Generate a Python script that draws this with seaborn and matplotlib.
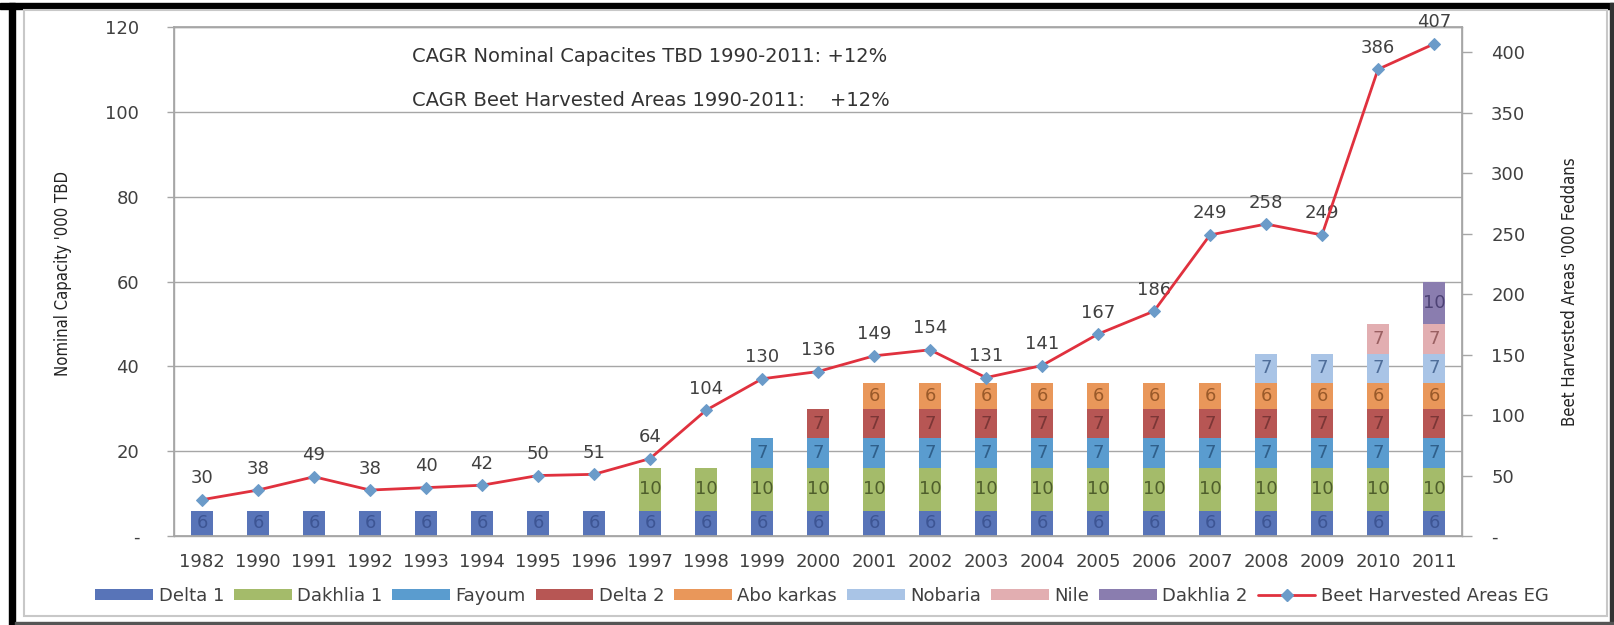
import numpy as np
import matplotlib
matplotlib.use("Agg")
import matplotlib.pyplot as plt
from matplotlib.lines import Line2D
from matplotlib.patches import Patch, Rectangle
import seaborn as sns

# categories
years = ["1982", "1990", "1991", "1992", "1993", "1994", "1995", "1996", "1997",
         "1998", "1999", "2000", "2001", "2002", "2003", "2004", "2005", "2006",
         "2007", "2008", "2009", "2010", "2011"]

# nominal capacity per factory ('000 TBD)
delta1 = [6, 6, 6, 6, 6, 6, 6, 6, 6, 6, 6, 6, 6, 6, 6, 6, 6, 6, 6, 6, 6, 6, 6]
dakhlia1 = [0, 0, 0, 0, 0, 0, 0, 0, 10, 10, 10, 10, 10, 10, 10, 10, 10, 10, 10, 10, 10, 10, 10]
fayoum = [0, 0, 0, 0, 0, 0, 0, 0, 0, 0, 7, 7, 7, 7, 7, 7, 7, 7, 7, 7, 7, 7, 7]
delta2 = [0, 0, 0, 0, 0, 0, 0, 0, 0, 0, 0, 7, 7, 7, 7, 7, 7, 7, 7, 7, 7, 7, 7]
abo_karkas = [0, 0, 0, 0, 0, 0, 0, 0, 0, 0, 0, 0, 6, 6, 6, 6, 6, 6, 6, 6, 6, 6, 6]
nobaria = [0, 0, 0, 0, 0, 0, 0, 0, 0, 0, 0, 0, 0, 0, 0, 0, 0, 0, 0, 7, 7, 7, 7]
nile = [0, 0, 0, 0, 0, 0, 0, 0, 0, 0, 0, 0, 0, 0, 0, 0, 0, 0, 0, 0, 0, 7, 7]
dakhlia2 = [0, 0, 0, 0, 0, 0, 0, 0, 0, 0, 0, 0, 0, 0, 0, 0, 0, 0, 0, 0, 0, 0, 10]

# beet harvested areas ('000 feddans)
beet_area = [30, 38, 49, 38, 40, 42, 50, 51, 64, 104, 130, 136, 149, 154, 131,
             141, 167, 186, 249, 258, 249, 386, 407]

series_names = ["Delta 1", "Dakhlia 1", "Fayoum", "Delta 2", "Abo karkas",
                "Nobaria", "Nile", "Dakhlia 2"]
series_vals = [delta1, dakhlia1, fayoum, delta2, abo_karkas, nobaria, nile, dakhlia2]
bar_colors = ["#5874b8", "#a4bb6a", "#5a9ccf", "#b75654", "#e9975a",
              "#a9c4e6", "#e2aeb1", "#8a7daf"]
text_colors = ["#3d5594", "#4f5e2c", "#2f5f8a", "#7a3636", "#9a5a2a",
               "#4f6e9a", "#9a6062", "#4d4275"]

line_color = "#e0313e"
marker_color = "#6b9bc9"
grid_color = "#a6a6a6"
txt = "#404040"

sns.set_theme(style="white")
plt.rcParams["font.family"] = ["DejaVu Sans"]

W, H = 1614, 625
fig = plt.figure(figsize=(W / 100, H / 100), dpi=100)
fig.patch.set_facecolor("white")

# scanned page frame
fig.patches.append(Rectangle((0, 1 - 9 / H), 1, 6 / H, transform=fig.transFigure,
                             color="black", zorder=0))
fig.patches.append(Rectangle((9 / W, 0), 6 / W, 1 - 3 / H, transform=fig.transFigure,
                             color="black", zorder=0))
fig.patches.append(Rectangle((1610 / W, 0), 3 / W, 1 - 3 / H, transform=fig.transFigure,
                             color="#333333", zorder=0))
fig.patches.append(Rectangle((24 / W, 1 - 616 / H), (1607 - 24) / W, (616 - 10) / H,
                             transform=fig.transFigure, fill=False,
                             edgecolor="#c8c8c8", lw=1.5, zorder=0))
fig.patches.append(Rectangle((15 / W, 0), 1, 3 / H, transform=fig.transFigure,
                             color="#555555", zorder=0))

left, right, top, base = 174, 1462, 27, 536
ax = fig.add_axes([left / W, 1 - base / H, (right - left) / W, (base - top) / H])
n = len(years)

bottom = np.zeros(n)
for name, vals, col, tcol in zip(series_names, series_vals, bar_colors, text_colors):
    vals = np.array(vals, dtype=float)
    sns.barplot(x=years, y=vals, order=years, color=col, saturation=1,
                width=0.39, bottom=bottom, errorbar=None, linewidth=0,
                ax=ax, zorder=2)
    for i, v in enumerate(vals):
        if v > 0:
            ax.text(i, bottom[i] + v / 2, f"{v:g}", ha="center", va="center",
                    fontsize=13, color=tcol, zorder=4)
    bottom += vals

ax.set_xlim(-0.5, n - 0.5)
ax.set_ylim(0, 120)
ax.set_yticks(np.arange(0, 121, 20))
ax.set_yticklabels(["-"] + [str(v) for v in range(20, 121, 20)])
ax.set_xticks(np.arange(n))
ax.set_xticklabels(years)
ax.set_xticks(np.arange(n + 1) - 0.5, minor=True)
ax.set_xlabel("")
ax.set_ylabel("")
ax.yaxis.grid(True, color=grid_color, lw=1, zorder=0)
ax.set_axisbelow(True)
ax.tick_params(axis="x", which="major", length=0, pad=12, labelsize=13, labelcolor=txt)
ax.tick_params(axis="x", which="minor", length=6, width=1, color=grid_color, direction="out")
ax.tick_params(axis="y", length=5, width=1, color=grid_color, direction="out",
               pad=20, labelsize=13, labelcolor=txt)
for s in ["left", "bottom", "right", "top"]:
    ax.spines[s].set_color(grid_color)
    ax.spines[s].set_linewidth(1)

ax2 = ax.twinx()
sns.lineplot(x=np.arange(n), y=beet_area, ax=ax2, color=line_color, lw=2,
             marker="D", markersize=6, markerfacecolor=marker_color,
             markeredgecolor=marker_color, zorder=5)
for i, v in enumerate(beet_area):
    ax2.annotate(str(v), (i, v), xytext=(0, 9), textcoords="offset points",
                 ha="center", va="bottom", fontsize=13, color=txt)
ax2.set_ylim(0, 421)
ax2.set_yticks(np.arange(0, 401, 50))
ax2.set_yticklabels(["-"] + [str(v) for v in range(50, 401, 50)])
ax2.set_ylabel("")
ax2.tick_params(axis="y", length=7, width=1, color=grid_color, direction="out",
                pad=14, labelsize=13, labelcolor=txt)
for s in ["left", "bottom", "right", "top"]:
    ax2.spines[s].set_color(grid_color)

# axis titles
cond = dict(family=["Liberation Sans Narrow", "DejaVu Sans"], stretch="condensed",
            fontsize=12, color="#222222", rotation=90, ha="center", va="center")
fig.text(63 / W, 1 - 273 / H, "Nominal Capacity '000 TBD", **cond)
fig.text(1570 / W, 1 - 292 / H, "Beet Harvested Areas '000 Feddans", **cond)

# CAGR notes
fig.text(412 / W, 1 - 56 / H, "CAGR Nominal Capacites TBD 1990-2011: +12%",
         fontsize=14, color="#333333", va="center", ha="left")
fig.text(412 / W, 1 - 100 / H, "CAGR Beet Harvested Areas 1990-2011:    +12%",
         fontsize=14, color="#333333", va="center", ha="left")

handles = [Patch(facecolor=c, edgecolor="none") for c in bar_colors]
handles.append(Line2D([0], [0], color=line_color, lw=2, marker="D", markersize=6,
                      markerfacecolor=marker_color, markeredgecolor=marker_color))
labels = series_names + ["Beet Harvested Areas EG"]
fig.legend(handles, labels, loc="center", bbox_to_anchor=(822 / W, 1 - 596 / H),
           ncol=9, frameon=False, fontsize=13, handlelength=3.2, handleheight=0.5,
           handletextpad=0.3, columnspacing=0.55, labelcolor=txt)

fig.savefig("out.png", dpi=100, facecolor="white")
